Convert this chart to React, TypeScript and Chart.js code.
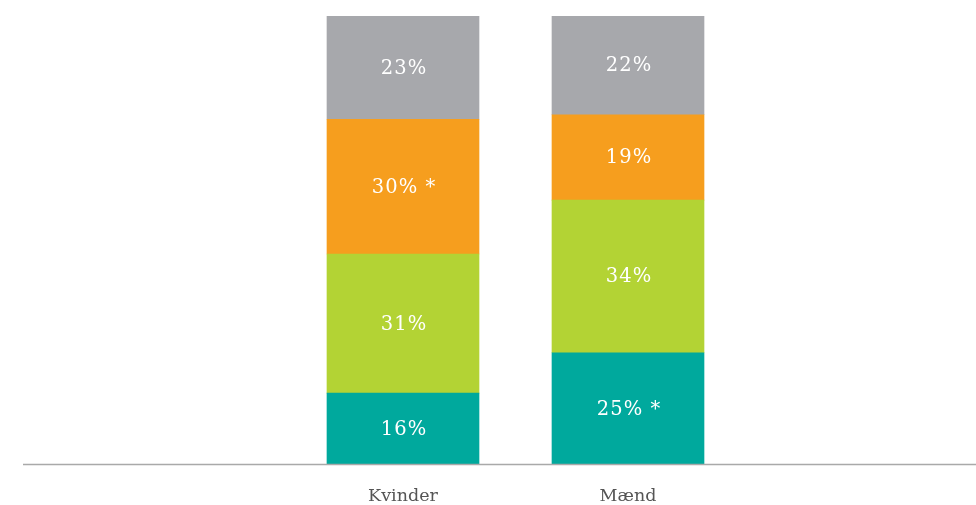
import React, { useEffect, useRef } from "react";
import { Chart, registerables } from "chart.js";

Chart.register(...registerables);

const categories = ["Kvinder", "Mænd"];
const tealValues = [16, 25];
const greenValues = [31, 34];
const orangeValues = [30, 19];
const grayValues = [23, 22];
const tealMarks = ["", "*"];
const greenMarks = ["", ""];
const orangeMarks = ["*", ""];
const grayMarks = ["", ""];

const COLORS = {
  teal: "#00A99D",
  green: "#B3D334",
  orange: "#F69E1E",
  gray: "#A7A8AC",
};

const labelFont = "'DejaVu Serif', serif";

const baselinePlugin = {
  id: "baseline",
  afterDatasetsDraw(chart: any) {
    const ctx = chart.ctx;
    const y = chart.scales.y.getPixelForValue(0);
    ctx.save();
    ctx.strokeStyle = "#A9A9A9";
    ctx.lineWidth = 1.3;
    ctx.beginPath();
    ctx.moveTo(23, Math.round(y) - 0.5);
    ctx.lineTo(chart.width, Math.round(y) - 0.5);
    ctx.stroke();
    ctx.restore();
  },
};

const valueLabelPlugin = {
  id: "valueLabels",
  afterDatasetsDraw(chart: any) {
    const ctx = chart.ctx;
    ctx.save();
    ctx.fillStyle = "#FFFFFF";
    ctx.font = `19.5px ${labelFont}`;
    ctx.textAlign = "center";
    ctx.textBaseline = "middle";
    try {
      (ctx as any).letterSpacing = "1px";
    } catch (e) {}
    chart.data.datasets.forEach((ds: any, di: number) => {
      const meta = chart.getDatasetMeta(di);
      meta.data.forEach((bar: any, i: number) => {
        const v = ds.data[i];
        const mark = ds.marks[i];
        const text = `${v}%` + (mark ? ` ${mark}` : "");
        const cy = (bar.y + bar.base) / 2 + 1;
        ctx.fillText(text, bar.x + 1, cy);
      });
    });
    ctx.restore();
  },
};

export default function App() {
  const ref = useRef<HTMLCanvasElement>(null);

  useEffect(() => {
    document.body.style.margin = "0";
    const canvas = ref.current;
    if (!canvas) return;
    const chart = new Chart(canvas, {
      type: "bar",
      data: {
        labels: categories,
        datasets: [
          { label: "teal", data: tealValues, marks: tealMarks, backgroundColor: COLORS.teal } as any,
          { label: "green", data: greenValues, marks: greenMarks, backgroundColor: COLORS.green } as any,
          { label: "orange", data: orangeValues, marks: orangeMarks, backgroundColor: COLORS.orange } as any,
          { label: "gray", data: grayValues, marks: grayMarks, backgroundColor: COLORS.gray } as any,
        ],
      },
      options: {
        responsive: false,
        animation: false,
        devicePixelRatio: 1,
        layout: { padding: { top: 16, left: 290.5, right: 235.5, bottom: 0 } },
        datasets: { bar: { barThickness: 152, borderWidth: 0 } },
        plugins: {
          legend: { display: false },
          tooltip: { enabled: false },
        },
        scales: {
          x: {
            stacked: true,
            grid: { display: false, drawTicks: false },
            border: { display: false },
            ticks: {
              color: "#555555",
              font: { family: labelFont, size: 17.5 },
              padding: 21,
            },
            afterFit(scale: any) {
              scale.height = 40;
            },
          },
          y: {
            stacked: true,
            display: false,
            min: 0,
            max: 100,
          },
        },
      },
      plugins: [baselinePlugin, valueLabelPlugin],
    });
    return () => chart.destroy();
  }, []);

  return (
    <div style={{ position: "absolute", left: 0, top: 0, width: 976, height: 505 }}>
      <canvas ref={ref} width={976} height={505} style={{ display: "block" }} />
    </div>
  );
}
